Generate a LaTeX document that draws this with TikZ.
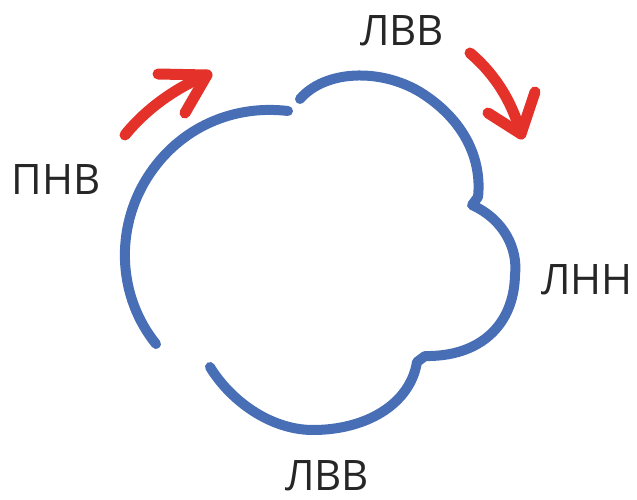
\documentclass[tikz,border=0pt]{standalone}
\usepackage{fontspec}
\setmainfont{Open Sans}
\definecolor{cloudblue}{RGB}{72,110,181}
\definecolor{arrowred}{RGB}{228,50,42}
\tikzset{
  cloudline/.style={cloudblue, line width=10pt, line cap=round, line join=round},
  redarrow/.style={arrowred, line width=11pt, line cap=round, line join=round},
  lbl/.style={inner sep=0pt, text=black!85, font=\fontsize{42}{48}\selectfont}
}

\begin{document}
\begin{tikzpicture}[x=1pt, y=-1pt]
\useasboundingbox (0,0) rectangle (637,500);

% left arc
\draw[cloudline] (156,344) .. controls (119,298) and (115,234) .. (144,183)
  .. controls (174,131) and (229,104) .. (288,111);

% top, right and bottom lobes
\draw[cloudline] (300,99) .. controls (325,70) and (380,68) .. (420,92)
  .. controls (465,120) and (482,160) .. (478,197) -- (472,205)
  .. controls (505,220) and (518,250) .. (515,275)
  .. controls (514,325) and (480,357) .. (425,356) -- (417,362)
  .. controls (410,405) and (365,430) .. (313,430)
  .. controls (270,430) and (230,400) .. (210,367);

% red arrows
\draw[redarrow] (125,135) .. controls (145,110) and (175,88) .. (207,75);
\draw[redarrow] (158,74) -- (207,75) -- (185,113);

\draw[redarrow] (470,53) .. controls (490,70) and (510,95) .. (521,134);
\draw[redarrow] (488,113) -- (521,134) -- (535,92);

\node[lbl] (pnv) at (56,180) {ПНВ};
\node[lbl] (lvvtop) at (402,31) {ЛВВ};
\node[lbl] (lnn) at (587,280) {ЛНН};
\node[lbl] (lvvbot) at (327,476) {ЛВВ};

\end{tikzpicture}
\end{document}
